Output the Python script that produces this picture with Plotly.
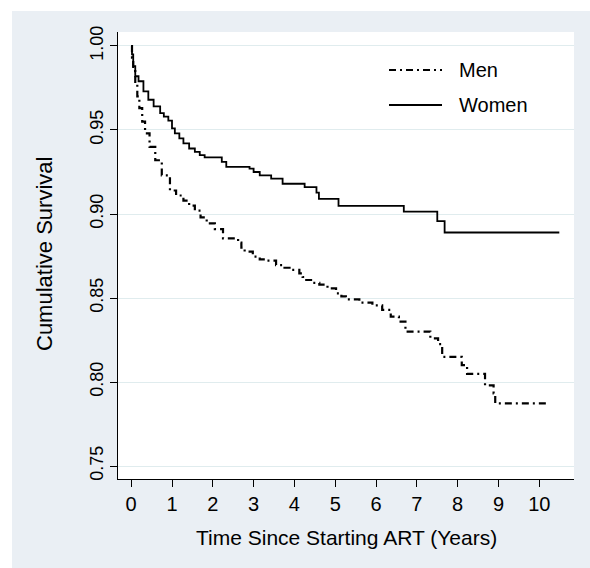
import plotly.graph_objects as go

# Kaplan-Meier step points: time (years) at which survival drops to the given value
men_time = [0, 0.02, 0.05, 0.1, 0.15, 0.2, 0.27, 0.34, 0.45, 0.59, 0.75, 0.95,
            1.1, 1.28, 1.42, 1.56, 1.7, 1.85, 2.05, 2.25, 2.62, 2.7, 2.78, 2.98,
            3.15, 3.31, 3.55, 3.7, 3.88, 4.12, 4.2, 4.29, 4.45, 4.61, 4.81, 5.02,
            5.15, 5.26, 5.59, 5.91, 6.15, 6.36, 6.56, 6.72, 7.33, 7.52, 7.62, 8.1,
            8.23, 8.67, 8.88, 8.92, 10.18]
men_surv = [1.0, 0.993, 0.985, 0.978, 0.970, 0.963, 0.955, 0.948, 0.940, 0.932, 0.923, 0.914,
            0.911, 0.908, 0.905, 0.902, 0.898, 0.8944, 0.891, 0.8855, 0.883, 0.880, 0.8776, 0.8746,
            0.873, 0.8722, 0.8696, 0.868, 0.8667, 0.8647, 0.8625, 0.8607, 0.859, 0.858, 0.8557, 0.8528,
            0.851, 0.8492, 0.8472, 0.8456, 0.8429, 0.8389, 0.8359, 0.830, 0.826, 0.8226, 0.815, 0.810,
            0.8048, 0.798, 0.7932, 0.7873, 0.7873]

women_time = [0, 0.02, 0.05, 0.1, 0.18, 0.3, 0.42, 0.55, 0.71, 0.8, 0.91, 1.0,
              1.07, 1.18, 1.28, 1.42, 1.56, 1.68, 1.8, 2.22, 2.33, 2.9, 3.0, 3.15,
              3.43, 3.71, 4.25, 4.54, 4.6, 5.08, 6.68, 7.5, 7.68, 10.49]
women_surv = [1.0, 0.995, 0.988, 0.982, 0.979, 0.973, 0.968, 0.964, 0.960, 0.958, 0.9556, 0.951,
              0.948, 0.945, 0.942, 0.939, 0.937, 0.935, 0.9337, 0.931, 0.928, 0.927, 0.925, 0.923,
              0.921, 0.918, 0.916, 0.9127, 0.909, 0.9048, 0.9014, 0.8958, 0.889, 0.889]

x_ticks = list(range(0, 11))
y_ticks = [0.75, 0.80, 0.85, 0.90, 0.95, 1.00]
y_tick_text = ["0.75", "0.80", "0.85", "0.90", "0.95", "1.00"]

series_names = ["Men", "Women"]
x_title = "Time Since Starting ART (Years)"
y_title = "Cumulative Survival"
men_dash = "7px,4px,2px,4px"

FONT = "Liberation Sans, Arial, Helvetica, sans-serif"
PANEL = "#eaeff4"
GRID = "#e0ecee"

fig = go.Figure()
fig.add_trace(go.Scatter(x=men_time, y=men_surv, mode="lines", name=series_names[0],
                         line=dict(color="black", width=2.2, dash=men_dash, shape="hv"),
                         showlegend=False))
fig.add_trace(go.Scatter(x=women_time, y=women_surv, mode="lines", name=series_names[1],
                         line=dict(color="black", width=1.8, shape="hv"),
                         showlegend=False))

# Plot area spans x 118..574 px, y 32..479 px
L, R, T, B = 118, 574, 32, 479
W, H = 590, 568
pw, ph = R - L, B - T


def px_x(p):
    return (p - L) / pw


def px_y(p):
    return (B - p) / ph


shapes = [
    # white margin strips outside the shaded panel
    dict(type="rect", xref="paper", yref="paper", x0=px_x(0), x1=px_x(W), y0=px_y(11), y1=px_y(0),
         fillcolor="white", line=dict(width=0), layer="below"),
    dict(type="rect", xref="paper", yref="paper", x0=px_x(0), x1=px_x(12), y0=px_y(H), y1=px_y(0),
         fillcolor="white", line=dict(width=0), layer="below"),
    # legend samples
    dict(type="line", xref="paper", yref="paper", x0=px_x(389), x1=px_x(442), y0=px_y(70), y1=px_y(70),
         line=dict(color="black", width=2.2, dash=men_dash)),
    dict(type="line", xref="paper", yref="paper", x0=px_x(389), x1=px_x(442), y0=px_y(105), y1=px_y(105),
         line=dict(color="black", width=1.8)),
]

annotations = [
    dict(xref="paper", yref="paper", x=px_x(457), y=px_y(70), text=series_names[0], showarrow=False,
         xanchor="left", yanchor="middle", font=dict(family=FONT, size=20, color="black")),
    dict(xref="paper", yref="paper", x=px_x(457), y=px_y(105), text=series_names[1], showarrow=False,
         xanchor="left", yanchor="middle", font=dict(family=FONT, size=20, color="black")),
    # axis titles
    dict(xref="paper", yref="paper", x=px_x(346), y=px_y(537), text=x_title, showarrow=False,
         xanchor="center", yanchor="middle", font=dict(family=FONT, size=21, color="black")),
    dict(xref="paper", yref="paper", x=px_x(45), y=px_y(254), text=y_title, showarrow=False,
         textangle=-90, xanchor="center", yanchor="middle",
         font=dict(family=FONT, size=22, color="black")),
]

fig.update_layout(
    width=W, height=H,
    margin=dict(l=L, r=W - R, t=T, b=H - B, pad=0),
    paper_bgcolor=PANEL,
    plot_bgcolor="white",
    font=dict(family=FONT, size=18, color="black"),
    shapes=shapes,
    annotations=annotations,
    showlegend=False,
    xaxis=dict(
        range=[-0.323, 10.85],
        tickmode="array", tickvals=x_ticks, ticktext=[str(v) for v in x_ticks],
        showgrid=False, zeroline=False,
        showline=True, linecolor="black", linewidth=1.3,
        ticks="outside", ticklen=7, tickwidth=1, tickcolor="black",
        tickfont=dict(family=FONT, size=20),
    ),
    yaxis=dict(
        range=[0.74226, 1.00833],
        tickmode="array", tickvals=y_ticks, ticktext=y_tick_text, tickangle=-90,
        showgrid=True, gridcolor=GRID, gridwidth=1.2, zeroline=False,
        showline=True, linecolor="black", linewidth=1.3,
        ticks="outside", ticklen=7, tickwidth=1, tickcolor="black",
        tickfont=dict(family=FONT, size=18),
    ),
)

fig.write_html("out.html")
